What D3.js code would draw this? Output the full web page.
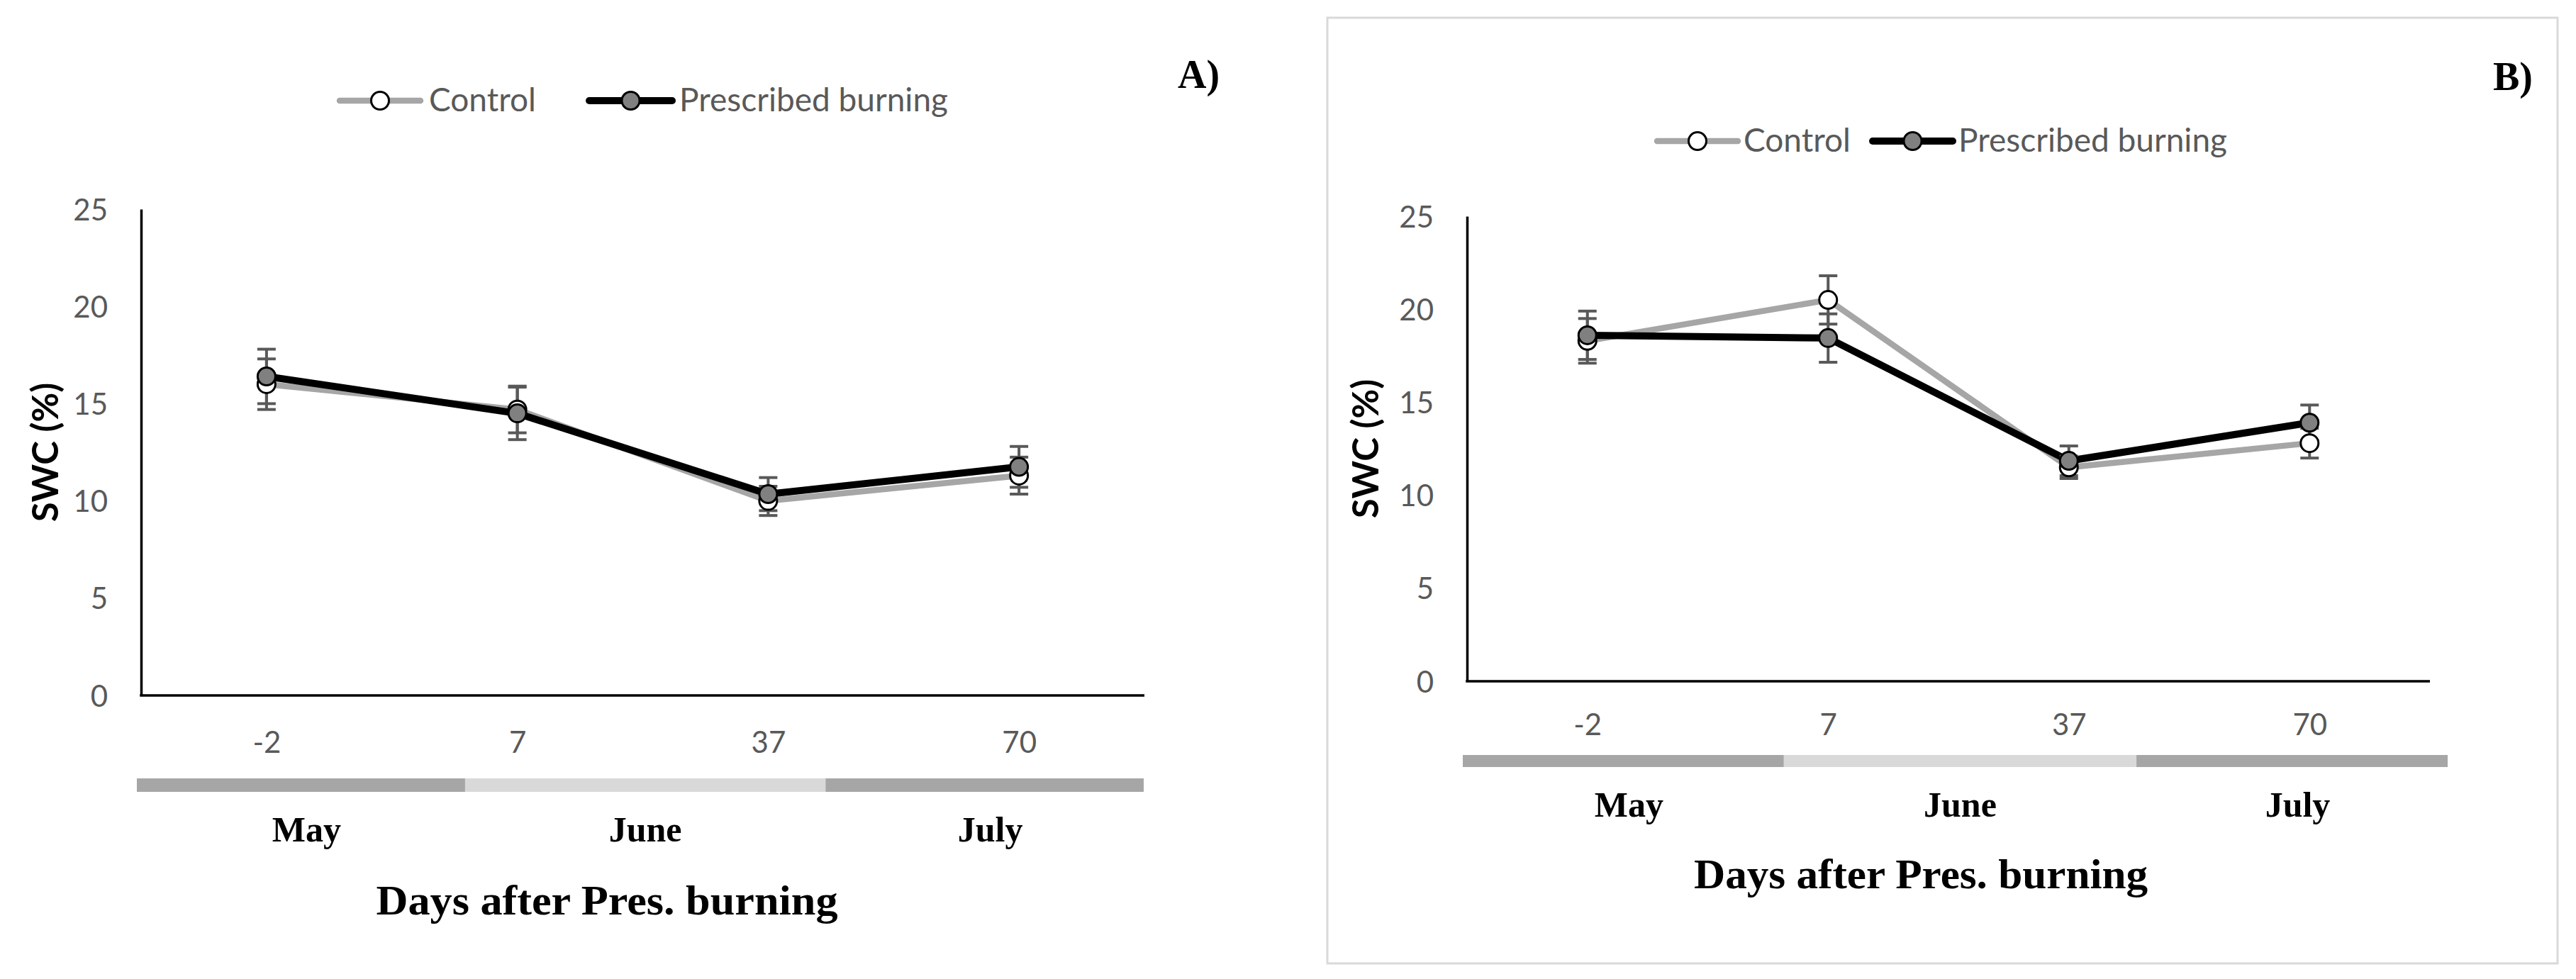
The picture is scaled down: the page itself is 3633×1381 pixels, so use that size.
<!DOCTYPE html>
<html>
<head>
<meta charset="utf-8">
<script src="https://cdn.jsdelivr.net/npm/d3@7/dist/d3.min.js"></script>
<style>
  html, body { margin: 0; padding: 0; background: #fff; }
  svg { display: block; }
</style>
</head>
<body>
<script>
// ---------------- data ----------------
const days = ["-2", "7", "37", "70"];
const months = ["May", "June", "July"];
const monthBounds = [0, 0.326, 0.684, 1];      // fraction of the month strip
const yTicks = [0, 5, 10, 15, 20, 25];
const seriesNames = ["Control", "Prescribed burning"];

const controlA = [16.0, 14.7, 10.0, 11.3];
const controlErrA = [1.3, 1.2, 0.75, 0.95];
const burnA = [16.4, 14.5, 10.35, 11.75];
const burnErrA = [1.4, 1.35, 0.85, 1.05];

const controlB = [18.3, 20.5, 11.5, 12.8];
const controlErrB = [1.2, 1.3, 0.6, 0.8];
const burnB = [18.6, 18.45, 11.85, 13.9];
const burnErrB = [1.3, 1.3, 0.8, 0.95];

const panelLabels = ["A)", "B)"];
const yTitle = "SWC (%)";
const xTitle = "Days after Pres. burning";

// ---------------- layout ----------------
const W = 3633, H = 1381;
const sansFont = "Lato, 'Open Sans', sans-serif";
const serifFont = "'Liberation Serif', 'Times New Roman', serif";
const tickColor = "#595959";

const panels = [
  { label: panelLabels[0], control: controlA, controlErr: controlErrA, burn: burnA, burnErr: burnErrA,
    x0: 199, x1: 1614, yTop: 295, yBot: 981, tickBase: 1062,
    barX0: 193, barX1: 1613, barY: 1098, barH: 19, monthBase: 1187,
    titleX: 856, titleBase: 1290, titleW: 651, swcX: 64,
    legY: 142, legC: [479, 593, 605], legB: [831, 948, 958],
    labX: 1661, labBase: 124, border: null },
  { label: panelLabels[1], control: controlB, controlErr: controlErrB, burn: burnB, burnErr: burnErrB,
    x0: 2069, x1: 3427, yTop: 305, yBot: 961, tickBase: 1037,
    barX0: 2063, barX1: 3452, barY: 1065, barH: 17, monthBase: 1152,
    titleX: 2709, titleBase: 1253, titleW: 640, swcX: 1926,
    legY: 199, legC: [2337, 2451, 2459], legB: [2641, 2754, 2762],
    labX: 3516, labBase: 127, border: [1872, 25, 3607, 1359] }
];

const styles = {
  control: { stroke: "#a6a6a6", width: 8.5, fill: "#ffffff" },
  burn: { stroke: "#000000", width: 10, fill: "#808080" }
};
const markerR = 12.5;
const errColor = "#595959";

const svg = d3.select("body").append("svg")
  .attr("width", W).attr("height", H)
  .attr("viewBox", `0 0 ${W} ${H}`);
svg.append("rect").attr("width", W).attr("height", H).attr("fill", "#fff");

panels.forEach(p => {
  const g = svg.append("g");

  if (p.border) {
    const [bx0, by0, bx1, by1] = p.border;
    g.append("rect").attr("x", bx0).attr("y", by0)
      .attr("width", bx1 - bx0).attr("height", by1 - by0)
      .attr("fill", "none").attr("stroke", "#d9d9d9").attr("stroke-width", 3);
  }

  const x = d3.scalePoint().domain(days).range([p.x0, p.x1]).padding(0.5);
  const y = d3.scaleLinear().domain([0, 25]).range([p.yBot, p.yTop]);

  // y axis
  const yAxis = g.append("g").attr("transform", `translate(${p.x0},0)`)
    .call(d3.axisLeft(y).tickValues(yTicks).tickSize(0).tickPadding(47).tickSizeOuter(0));
  yAxis.select(".domain").attr("stroke", "#000").attr("stroke-width", 3.5);
  yAxis.selectAll("text").attr("font-family", sansFont).attr("font-size", 42)
    .attr("fill", tickColor).attr("dy", "0.36em");

  // x axis
  const xAxis = g.append("g").attr("transform", `translate(0,${p.yBot})`)
    .call(d3.axisBottom(x).tickSize(0).tickSizeOuter(0));
  xAxis.select(".domain").attr("stroke", "#000").attr("stroke-width", 3.5)
    .attr("d", `M${p.x0 - 1.75},0H${p.x1}`);
  xAxis.selectAll("text").attr("font-family", sansFont).attr("font-size", 42)
    .attr("fill", tickColor).attr("dy", null).attr("y", p.tickBase - p.yBot);

  // month strip
  const bx = d3.scaleLinear().domain([0, 1]).range([p.barX0, p.barX1]);
  months.forEach((m, i) => {
    g.append("rect")
      .attr("x", bx(monthBounds[i])).attr("y", p.barY)
      .attr("width", bx(monthBounds[i + 1]) - bx(monthBounds[i])).attr("height", p.barH)
      .attr("fill", i === 1 ? "#d9d9d9" : "#a6a6a6");
    g.append("text")
      .attr("x", bx((monthBounds[i] + monthBounds[i + 1]) / 2) + (i === 1 ? 0 : 8))
      .attr("y", p.monthBase)
      .attr("text-anchor", "middle")
      .attr("font-family", serifFont).attr("font-weight", "bold").attr("font-size", 50)
      .attr("fill", "#000").text(m);
  });

  // titles
  g.append("text").attr("x", p.titleX - p.titleW / 2).attr("y", p.titleBase)
    .attr("textLength", p.titleW).attr("lengthAdjust", "spacingAndGlyphs")
    .attr("font-family", serifFont).attr("font-weight", "bold").attr("font-size", 59)
    .attr("fill", "#000").text(xTitle);
  const yc = (p.yTop + p.yBot) / 2;
  g.append("text").attr("transform", `translate(${p.swcX + 18},${yc}) rotate(-90)`)
    .attr("text-anchor", "middle")
    .attr("font-family", sansFont).attr("font-weight", "bold").attr("font-size", 51)
    .attr("fill", "#000").text(yTitle);
  g.append("text").attr("x", p.labX).attr("y", p.labBase)
    .attr("font-family", serifFont).attr("font-weight", "bold").attr("font-size", 56)
    .attr("fill", "#000").text(p.label);

  // series
  const line = d3.line().x((d, i) => x(days[i])).y(d => y(d));
  const series = [
    { vals: p.control, err: p.controlErr, st: styles.control },
    { vals: p.burn, err: p.burnErr, st: styles.burn }
  ];
  series.forEach(s => {
    g.append("path").datum(s.vals).attr("d", line)
      .attr("fill", "none").attr("stroke", s.st.stroke).attr("stroke-width", s.st.width)
      .attr("stroke-linejoin", "round");
  });
  series.forEach(s => {
    const eg = g.append("g").attr("stroke", errColor).attr("stroke-width", 4);
    s.vals.forEach((v, i) => {
      const cx = x(days[i]);
      eg.append("line").attr("x1", cx).attr("x2", cx)
        .attr("y1", y(v - s.err[i])).attr("y2", y(v + s.err[i]));
      [v - s.err[i], v + s.err[i]].forEach(e => {
        eg.append("line").attr("x1", cx - 13).attr("x2", cx + 13)
          .attr("y1", y(e)).attr("y2", y(e));
      });
    });
  });
  series.forEach(s => {
    g.selectAll(null).data(s.vals).enter().append("circle")
      .attr("cx", (d, i) => x(days[i])).attr("cy", d => y(d)).attr("r", markerR)
      .attr("fill", s.st.fill).attr("stroke", "#000").attr("stroke-width", 3);
  });

  // legend
  [[p.legC, styles.control, seriesNames[0]], [p.legB, styles.burn, seriesNames[1]]].forEach(([L, st, name]) => {
    g.append("line").attr("x1", L[0]).attr("x2", L[1]).attr("y1", p.legY).attr("y2", p.legY)
      .attr("stroke", st.stroke).attr("stroke-width", st.width).attr("stroke-linecap", "round");
    g.append("circle").attr("cx", (L[0] + L[1]) / 2).attr("cy", p.legY).attr("r", markerR)
      .attr("fill", st.fill).attr("stroke", "#000").attr("stroke-width", 3);
    g.append("text").attr("x", L[2]).attr("y", p.legY + 15)
      .attr("font-family", sansFont).attr("font-size", 46).attr("fill", tickColor).text(name);
  });
});
</script>
</body>
</html>
